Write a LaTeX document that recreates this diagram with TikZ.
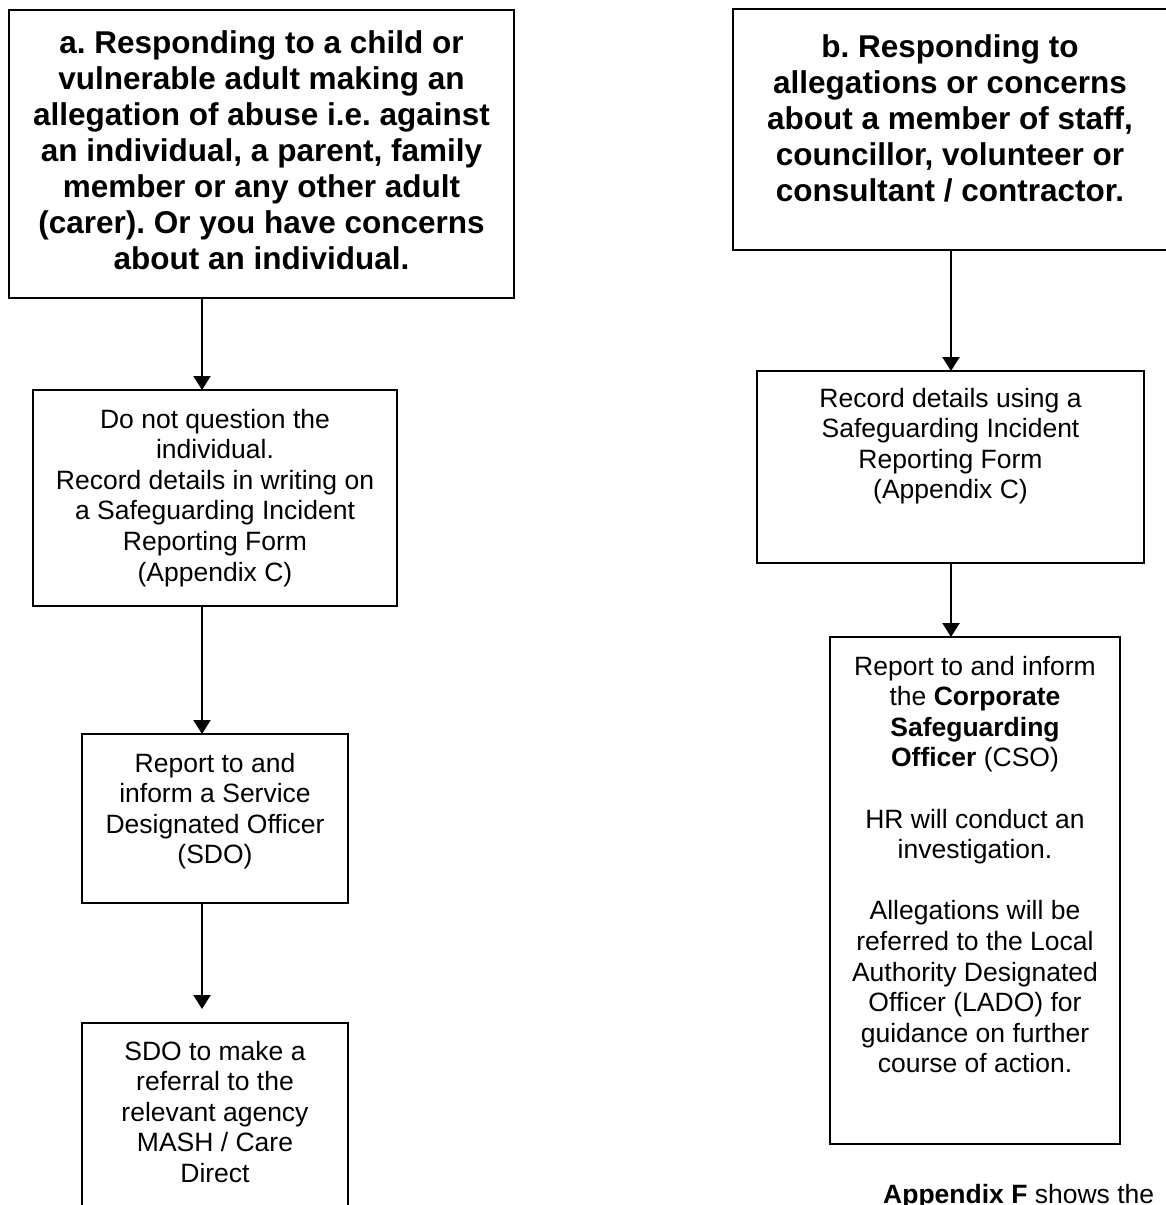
\documentclass[tikz,border=0pt]{standalone}
\usepackage{fontspec}
\setmainfont{Liberation Sans}
\usetikzlibrary{arrows.meta}
\frenchspacing
\newcommand\mlines[1]{\begin{tabular}[t]{@{}c@{}}#1\end{tabular}}
\begin{document}
\begin{tikzpicture}[x=1pt,y=-1pt,
  box/.style={draw=black, line width=2.8pt, inner sep=0pt, outer sep=0pt},
  conn/.style={draw=black, line width=2.3pt, -{Triangle[width=17pt,length=14pt]}},
  head/.style={inner sep=0pt, anchor=base, font=\frenchspacing\fontsize{31.5}{36}\selectfont\bfseries},
  body/.style={inner sep=0pt, anchor=base, font=\frenchspacing\fontsize{26.5}{30.6}\selectfont}]
\useasboundingbox[fill=white] (0,0) rectangle (1165,1205);

% boxes
\node[box, minimum width=505pt, minimum height=288pt] (boxa) at (261.5,154) {};
\node[box, minimum width=434pt, minimum height=241pt] (boxb) at (950,129.5) {};
\node[box, minimum width=364pt, minimum height=216pt] (box2) at (215,498) {};
\node[box, minimum width=266pt, minimum height=169pt] (box3) at (215,818.5) {};
\node[box, minimum width=266pt, minimum height=207pt] (box4) at (215,1126.5) {};
\node[box, minimum width=387pt, minimum height=192pt] (box5) at (950.5,467) {};
\node[box, minimum width=290pt, minimum height=507pt] (box6) at (975,890.5) {};

% texts
\node[head] (ta) at (261.5,53) {\mlines{a. Responding to a child or\\ vulnerable adult making an\\ allegation of abuse i.e. against\\ an individual, a parent, family\\ member or any other adult\\ (carer). Or you have concerns\\ about an individual.}};
\node[head] (tb) at (950,57) {\mlines{b. Responding to\\ allegations or concerns\\ about a member of staff,\\ councillor, volunteer or\\ consultant / contractor.}};
\node[body] (t2) at (215,428) {\mlines{Do not question the\\ individual.\\ Record details in writing on\\ a Safeguarding Incident\\ Reporting Form\\ (Appendix C)}};
\node[body] (t3) at (215,772) {\mlines{Report to and\\ inform a Service\\ Designated Officer\\ (SDO)}};
\node[body] (t4) at (215,1060) {\mlines{SDO to make a\\ referral to the\\ relevant agency\\ MASH / Care\\ Direct}};
\node[body] (t5) at (950.5,407) {\mlines{Record details using a\\ Safeguarding Incident\\ Reporting Form\\ (Appendix C)}};
\node[body] (t6) at (975,675) {\mlines{Report to and inform\\ the \textbf{Corporate}\\ \textbf{Safeguarding}\\ \textbf{Officer} (CSO)\\ \\ HR will conduct an\\ investigation.\\ \\ Allegations will be\\ referred to the Local\\ Authority Designated\\ Officer (LADO) for\\ guidance on further\\ course of action.}};
\node[body, anchor=base west] (tf) at (883,1203) {\textbf{Appendix F} shows the};

% connectors
\coordinate (la) at (202,0);
\coordinate (ra) at (951,0);
\draw[conn] (boxa.south -| la) -- (box2.north -| la);
\draw[conn] (box2.south -| la) -- (box3.north -| la);
\draw[conn, shorten >=14pt] (box3.south -| la) -- (box4.north -| la);
\draw[conn] (boxb.south -| ra) -- (box5.north -| ra);
\draw[conn] (box5.south -| ra) -- (box6.north -| ra);
\end{tikzpicture}
\end{document}
